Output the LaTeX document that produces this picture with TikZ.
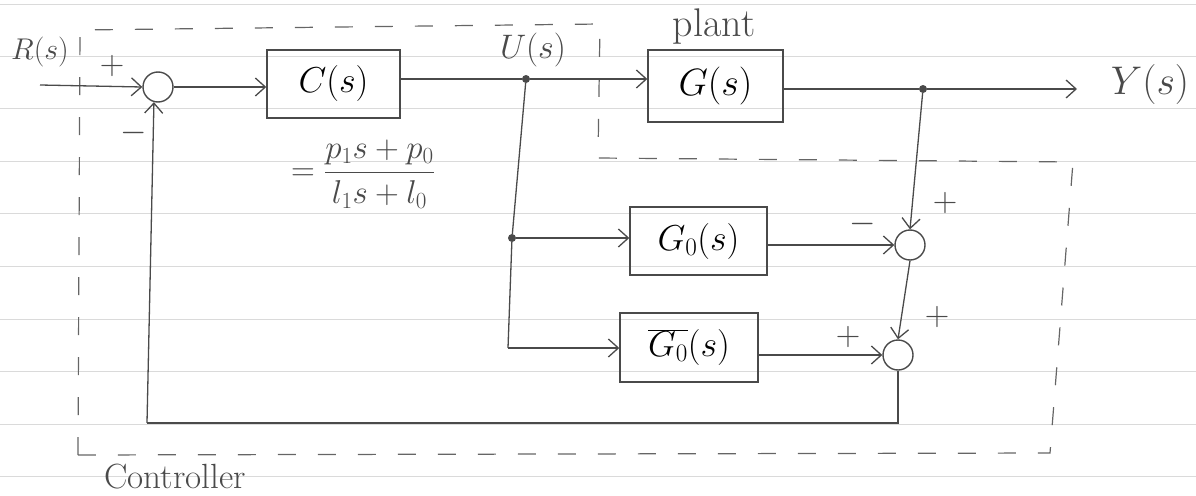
\RequirePackage{fix-cm}
\documentclass[tikz,border=0pt]{standalone}
\usetikzlibrary{arrows.meta}
\definecolor{pencil}{HTML}{4A4A4A}
\definecolor{ruleline}{HTML}{DADADA}
\begin{document}
\begin{tikzpicture}[x=1pt,y=-1pt,
  blockbox/.style={draw=pencil, line width=1.4pt, inner sep=0pt},
  sumnode/.style={circle, draw=pencil, line width=1.4pt, minimum size=30pt, inner sep=0pt},
  dotnode/.style={circle, fill=pencil, minimum size=8pt, inner sep=0pt},
  wire/.style={draw=pencil, line width=1.3pt},
  sig/.style={wire, -{Straight Barb[length=10pt,width=18pt,line width=1.3pt]}},
  lbl/.style={text=pencil, inner sep=0pt},
  sgn/.style={lbl, font=\fontsize{34}{38}\selectfont},
  bound/.style={draw=pencil!85, line width=1.2pt, dash pattern=on 18pt off 22pt},
  rl/.style={draw=ruleline, line width=0.8pt}
]
\useasboundingbox (0,0) rectangle (1196,495);
% notebook ruling
\foreach \yy in {4,56,108,161,213,266,319,371,424,476}
  \draw[rl] (0,\yy) -- (1196,\yy);
% controller boundary
\draw[bound] (78,455) -- (80,30) -- (600,24) -- (598,158) -- (1073,162) -- (1050,453) -- cycle;
% nodes
\node[lbl, font=\fontsize{30}{34}\selectfont] (R) at (40,52) {$R(s)$};
\coordinate (rin) at (40,85);
\node[sumnode] (s1) at (158,87) {};
\node[blockbox, minimum width=133pt, minimum height=68pt, font=\fontsize{36}{40}\selectfont] (C) at (333.5,84) {$C(s)$};
\node[lbl, font=\fontsize{33}{38}\selectfont] (frac) at (363,174) {$\displaystyle=\frac{p_1 s+p_0}{l_1 s+l_0}$};
\node[dotnode] (du) at (526,79) {};
\node[lbl, font=\fontsize{34}{38}\selectfont] (U) at (533,50) {$U(s)$};
\node[blockbox, minimum width=135pt, minimum height=72pt, font=\fontsize{38}{42}\selectfont] (G) at (715.5,86) {$G(s)$};
\node[lbl, font=\fontsize{40}{44}\selectfont] (plant) at (714,27) {plant};
\node[dotnode] (dy) at (923,89) {};
\coordinate (yout) at (1077,89);
\node[lbl, font=\fontsize{40}{44}\selectfont] (Y) at (1150,85) {$Y(s)$};
\node[dotnode] (dl) at (512,238) {};
\coordinate (corner) at (508,348);
\node[blockbox, minimum width=137pt, minimum height=68pt, font=\fontsize{36}{40}\selectfont] (G0) at (698.5,241) {$G_0(s)$};
\node[blockbox, minimum width=138pt, minimum height=69pt, font=\fontsize{36}{40}\selectfont] (G0b) at (689,347.5) {$\overline{G_0}(s)$};
\node[sumnode] (s2) at (910,245) {};
\node[sumnode] (s3) at (898,355) {};
\coordinate (fb1) at (898,423);
\coordinate (fb2) at (147,423);
\node[lbl, font=\fontsize{35}{40}\selectfont] (ctrl) at (175,477) {Controller};
% signs
\node[sgn] (p1) at (112,66) {$+$};
\node[sgn] (m1) at (134,133) {$-$};
\node[sgn] (p2) at (945,203) {$+$};
\node[sgn] (m2) at (863,224) {$-$};
\node[sgn] (p3) at (937,317) {$+$};
\node[sgn] (p4) at (848,337) {$+$};
% connectors
\draw[sig] (rin) -- (s1.west);
\draw[sig] (s1.east) -- (C.west |- s1.east);
\draw[wire] (C.east |- du) -- (du);
\draw[sig] (du) -- (G.west |- du);
\draw[wire] (G.east |- dy) -- (dy);
\draw[sig] (dy) -- (yout);
\draw[sig] (dy) -- (s2.north);
\draw[wire] (du) -- (dl);
\draw[sig] (dl) -- (G0.west |- dl);
\draw[wire] (dl) -- (corner);
\draw[sig] (corner) -- (G0b.west |- corner);
\draw[sig] (G0.east |- s2) -- (s2.west);
\draw[sig] (G0b.east |- s3) -- (s3.west);
\draw[sig] (s2.south) -- (s3.north);
\draw[wire] (s3.south) -- (fb1) -- (fb2);
\draw[sig] (fb2) -- (s1.-105);
\end{tikzpicture}
\end{document}
